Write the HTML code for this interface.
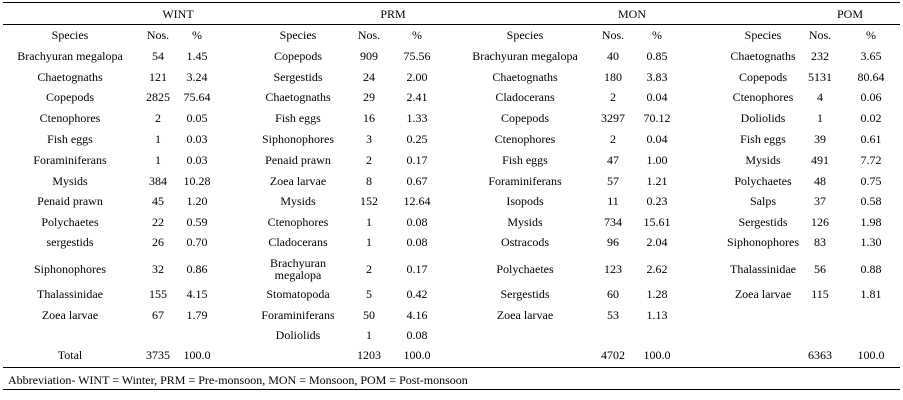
<!DOCTYPE html>
<html><head><meta charset="utf-8">
<style>
body{margin:0;background:#fff;}
#t{position:relative;width:903px;height:400px;font-family:"Liberation Serif",serif;font-size:12px;color:#000;}
.c{position:absolute;white-space:nowrap;transform:translate(-50%,-50%);line-height:12px;text-align:center;}
.ln{position:absolute;left:3px;width:897px;height:1px;background:#000;}
</style></head><body>
<div id="t">
<div class="ln" style="top:2px"></div>
<div class="ln" style="top:24px"></div>
<div class="ln" style="top:367px"></div>
<div class="ln" style="top:389px"></div>
<div class="c" style="left:8px;top:380px;transform:translate(0,-50%)">Abbreviation- WINT = Winter, PRM = Pre-monsoon, MON = Monsoon, POM = Post-monsoon</div>
</div>
<script>
const groups=["WINT","PRM","MON","POM"];
const groupX=[178,393,632,850];
const colX=[[70,158,197],[298,369,417],[525,613,657],[763,820,871]];
const wint=[["Brachyuran megalopa","54","1.45"],["Chaetognaths","121","3.24"],["Copepods","2825","75.64"],["Ctenophores","2","0.05"],["Fish eggs","1","0.03"],["Foraminiferans","1","0.03"],["Mysids","384","10.28"],["Penaid prawn","45","1.20"],["Polychaetes","22","0.59"],["sergestids","26","0.70"],["Siphonophores","32","0.86"],["Thalassinidae","155","4.15"],["Zoea larvae","67","1.79"]];
const prm=[["Copepods","909","75.56"],["Sergestids","24","2.00"],["Chaetognaths","29","2.41"],["Fish eggs","16","1.33"],["Siphonophores","3","0.25"],["Penaid prawn","2","0.17"],["Zoea larvae","8","0.67"],["Mysids","152","12.64"],["Ctenophores","1","0.08"],["Cladocerans","1","0.08"],["Brachyuran<br>megalopa","2","0.17"],["Stomatopoda","5","0.42"],["Foraminiferans","50","4.16"],["Doliolids","1","0.08"]];
const mon=[["Brachyuran megalopa","40","0.85"],["Chaetognaths","180","3.83"],["Cladocerans","2","0.04"],["Copepods","3297","70.12"],["Ctenophores","2","0.04"],["Fish eggs","47","1.00"],["Foraminiferans","57","1.21"],["Isopods","11","0.23"],["Mysids","734","15.61"],["Ostracods","96","2.04"],["Polychaetes","123","2.62"],["Sergestids","60","1.28"],["Zoea larvae","53","1.13"]];
const pom=[["Chaetognaths","232","3.65"],["Copepods","5131","80.64"],["Ctenophores","4","0.06"],["Doliolids","1","0.02"],["Fish eggs","39","0.61"],["Mysids","491","7.72"],["Polychaetes","48","0.75"],["Salps","37","0.58"],["Sergestids","126","1.98"],["Siphonophores","83","1.30"],["Thalassinidae","56","0.88"],["Zoea larvae","115","1.81"]];
const totals=[["3735","100.0"],["1203","100.0"],["4702","100.0"],["6363","100.0"]];
const rowY=[56,77,97,118,139,160,181,201,222,242,269,294,315,335];
const data=[wint,prm,mon,pom];
const t=document.getElementById('t');
function cell(x,y,html,name){
  const d=document.createElement('div');
  d.className='c';
  d.style.left=x+'px';d.style.top=y+'px';
  d.innerHTML=html;
  
  
  t.appendChild(d);
}
groups.forEach((g,gi)=>{
  cell(groupX[gi],14,g,'group-header-'+g.toLowerCase());
  cell(colX[gi][0],35,'Species','species-header');
  cell(colX[gi][1],35,'Nos.','nos-header');
  cell(colX[gi][2],35,'%','percent-header');
  data[gi].forEach((r,ri)=>{
    cell(colX[gi][0],rowY[ri],r[0],'species-cell');
    cell(colX[gi][1],rowY[ri],r[1],'count-cell');
    cell(colX[gi][2],rowY[ri],r[2],'percent-cell');
  });
  cell(colX[gi][1],355,totals[gi][0],'total-count');
  cell(colX[gi][2],355,totals[gi][1],'total-percent');
});
cell(70,355,'Total','total-label');
</script>
</body></html>
